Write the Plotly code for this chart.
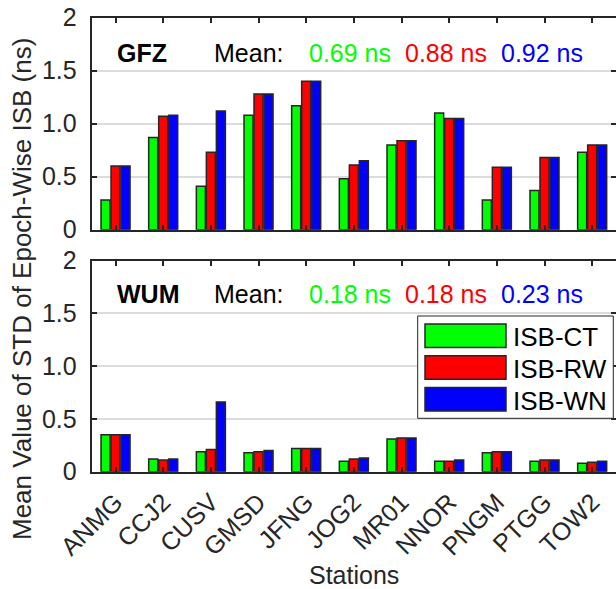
import plotly.graph_objects as go

# ---- data ----
stations = ["ANMG", "CCJ2", "CUSV", "GMSD", "JFNG", "JOG2",
            "MR01", "NNOR", "PNGM", "PTGG", "TOW2"]
series_names = ["ISB-CT", "ISB-RW", "ISB-WN"]
series_colors = ["#00ff00", "#ff0000", "#0000ff"]

gfz_ct = [0.28, 0.87, 0.41, 1.08, 1.17, 0.48, 0.80, 1.10, 0.28, 0.37, 0.73]
gfz_rw = [0.60, 1.07, 0.73, 1.28, 1.40, 0.61, 0.84, 1.05, 0.59, 0.68, 0.80]
gfz_wn = [0.60, 1.08, 1.12, 1.28, 1.40, 0.65, 0.84, 1.05, 0.59, 0.68, 0.80]

wum_ct = [0.35, 0.12, 0.19, 0.18, 0.22, 0.10, 0.31, 0.10, 0.18, 0.10, 0.08]
wum_rw = [0.35, 0.11, 0.21, 0.19, 0.22, 0.12, 0.32, 0.10, 0.19, 0.11, 0.09]
wum_wn = [0.35, 0.12, 0.66, 0.20, 0.22, 0.13, 0.32, 0.11, 0.19, 0.11, 0.10]

gfz_means = ["0.69 ns", "0.88 ns", "0.92 ns"]
wum_means = ["0.18 ns", "0.18 ns", "0.23 ns"]

y_tickvals = [0, 0.5, 1.0, 1.5, 2]
y_ticktext = ["0", "0.5", "1.0", "1.5", "2"]

# ---- page geometry (pixels) ----
W, H = 616, 589
FONT = "Liberation Sans, Arial, sans-serif"
INK = "#262626"


def px(x):
    return x / W


def py(y):
    return 1 - y / H


fig = go.Figure()

panels = [
    ("x", "y", "GFZ", gfz_means, [gfz_ct, gfz_rw, gfz_wn]),
    ("x2", "y2", "WUM", wum_means, [wum_ct, wum_rw, wum_wn]),
]

for xa, ya, _, _, values in panels:
    for name, color, vals in zip(series_names, series_colors, values):
        fig.add_trace(go.Bar(
            x=stations, y=vals, name=name, xaxis=xa, yaxis=ya,
            marker=dict(color=color, line=dict(color=INK, width=1.5)),
            showlegend=False,
        ))

x_dom = [px(91.7), 1.0]
top_dom = [py(229.7), py(17.7)]
bot_dom = [py(471.7), py(260.7)]

common_x = dict(
    type="category", range=[-0.5, len(stations) - 0.5],
    showline=True, linecolor=INK, linewidth=2, mirror="ticks",
    ticks="inside", ticklen=5, tickwidth=1.5, tickcolor=INK,
    showgrid=False, zeroline=False, automargin=False,
    tickfont=dict(family=FONT, size=25, color=INK),
    ticklabelstandoff=4,
)
common_y = dict(
    range=[0, 2], tickvals=y_tickvals, ticktext=y_ticktext,
    showline=True, linecolor=INK, linewidth=2, mirror="ticks",
    ticks="inside", ticklen=5, tickwidth=1.5, tickcolor=INK,
    showgrid=True, gridcolor="#dcdcdc", gridwidth=1.5, zeroline=False,
    automargin=False,
    tickfont=dict(family=FONT, size=25, color=INK),
    ticklabelstandoff=8,
)

fig.update_layout(
    template="none",
    width=W, height=H,
    margin=dict(l=0, r=0, t=0, b=0, autoexpand=False),
    paper_bgcolor="white", plot_bgcolor="white",
    barmode="group", bargap=0.37, bargroupgap=0.1,
    showlegend=False,
    xaxis=dict(common_x, domain=x_dom, anchor="y", showticklabels=False),
    yaxis=dict(common_y, domain=top_dom, anchor="x"),
    xaxis2=dict(common_x, domain=x_dom, anchor="y2", tickangle=-45),
    yaxis2=dict(common_y, domain=bot_dom, anchor="x2"),
)

annotations = []
shapes = []

# panel headers: centre name and the three mean values
for (xa, ya, centre, means, _), yc in zip(panels, [52.5, 293.5]):
    annotations.append(dict(
        x=px(115), y=py(yc), xref="paper", yref="paper",
        xanchor="left", yanchor="middle", showarrow=False,
        text=f"<b>{centre}</b>",
        font=dict(family=FONT, size=25, color="black"),
    ))
    annotations.append(dict(
        x=px(211.7), y=py(yc), xref="paper", yref="paper",
        xanchor="left", yanchor="middle", showarrow=False,
        text="Mean:", font=dict(family=FONT, size=25, color="black"),
    ))
    for xl, txt, col in zip([306.7, 403.3, 499.3], means, series_colors):
        annotations.append(dict(
            x=px(xl), y=py(yc), xref="paper", yref="paper",
            xanchor="left", yanchor="middle", showarrow=False,
            text=txt, font=dict(family=FONT, size=25, color=col),
        ))

# axis titles
annotations.append(dict(
    x=px(22), y=py(289), xref="paper", yref="paper",
    xanchor="center", yanchor="middle", showarrow=False, textangle=-90,
    text="Mean Value of STD of Epoch-Wise ISB (ns)",
    font=dict(family=FONT, size=26, color=INK),
))
annotations.append(dict(
    x=px(354), y=0, xref="paper", yref="paper",
    xanchor="center", yanchor="bottom", showarrow=False, yshift=-2,
    text="Stations", font=dict(family=FONT, size=25, color=INK),
))

# legend box in the lower panel
shapes.append(dict(
    type="rect", xref="paper", yref="paper",
    x0=px(417.7), x1=px(613.3), y0=py(418.3), y1=py(316),
    line=dict(color=INK, width=1), fillcolor="white", layer="above",
))
for i, (name, color) in enumerate(zip(series_names, series_colors)):
    top = 324 + i * 31.8
    shapes.append(dict(
        type="rect", xref="paper", yref="paper",
        x0=px(425), x1=px(506), y0=py(top + 23.5), y1=py(top),
        line=dict(color=INK, width=1.5), fillcolor=color, layer="above",
    ))
    annotations.append(dict(
        x=px(511), y=py(top + 13), xref="paper", yref="paper",
        xanchor="left", yanchor="middle", showarrow=False,
        text=name, font=dict(family=FONT, size=26, color="black"),
    ))

fig.update_layout(annotations=annotations, shapes=shapes)

fig.write_html("out.html")
